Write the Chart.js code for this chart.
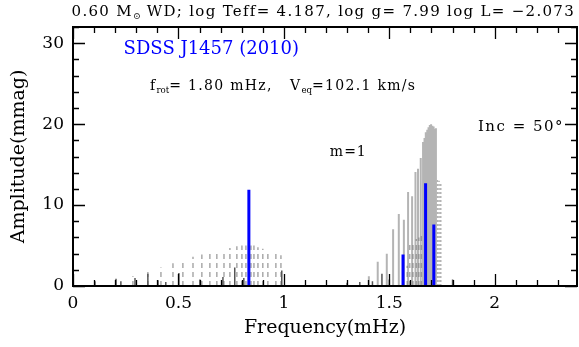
<!DOCTYPE html>
<html>
<head>
<meta charset="utf-8">
<script src="https://cdn.jsdelivr.net/npm/chart.js@4.4.0/dist/chart.umd.min.js"></script>
<style>
  html, body { margin: 0; padding: 0; background: #fff; }
  #wrap { width: 579px; height: 347px; }
</style>
</head>
<body>
<div id="wrap"><canvas id="spectrum"></canvas></div>
<script>
// observed peaks (blue)
const obsFreq = [0.834, 1.565, 1.672, 1.711];
const obsAmp = [11.9, 3.9, 12.7, 7.6];

// model modes, low-frequency group (dashed)
const lowDashFreq = [0.284, 0.355, 0.417, 0.474, 0.521, 0.569, 0.611, 0.649, 0.682, 0.716, 0.744, 0.777, 0.801, 0.820, 0.844, 0.858, 0.877, 0.900, 0.924, 0.962, 0.986];
const lowDashAmp = [1.2, 1.8, 2.3, 2.8, 3.3, 3.6, 3.9, 4.1, 4.3, 4.4, 4.7, 4.9, 5.0, 5.0, 5.0, 5.0, 4.8, 4.6, 4.3, 4.2, 3.8];

// short solid stems
const lowFreq = [0.104, 0.204, 0.227, 0.294, 0.355, 0.403, 0.440, 0.502, 0.602, 0.711, 0.767, 0.810, 0.990, 1.300, 1.360, 1.420, 1.465, 1.500, 1.800];
const lowAmp = [0.6, 0.9, 0.6, 1.0, 1.5, 0.7, 0.5, 1.6, 0.8, 1.1, 2.3, 1.0, 1.9, 0.4, 0.5, 0.6, 1.5, 0.8, 0.8];

// high-frequency band (solid)
const bandFreq = [1.403, 1.445, 1.488, 1.518, 1.545, 1.569, 1.589, 1.608, 1.624, 1.636, 1.649, 1.660, 1.667, 1.673, 1.680, 1.686, 1.692, 1.698, 1.704, 1.710, 1.716, 1.721];
const bandAmp = [1.2, 3.0, 4.0, 7.0, 8.9, 8.2, 11.6, 11.1, 14.1, 14.5, 15.8, 17.8, 18.3, 19.0, 19.3, 19.6, 19.9, 20.0, 19.8, 19.7, 19.4, 19.5];

// high-frequency band (dashed)
const bandDashFreq = [1.585, 1.597, 1.612, 1.628, 1.640, 1.652];
const bandDashAmp = [2.5, 5.3, 5.5, 5.8, 6.0, 6.3];

// dotted
const dotFreq = [1.728, 1.736, 1.744];
const dotAmp = [13.3, 13.0, 12.6];

const xMax = 2.39, yMax = 32;
const serif = '"DejaVu Serif", "Liberation Serif", serif';

// vertical stems: 0 -> amp, then a gap
function stems(freqs, amps) {
  let pts = [];
  for (let i = 0; i < freqs.length; i++) {
    pts.push({x: freqs[i], y: 0}, {x: freqs[i], y: amps[i]}, {x: freqs[i], y: null});
  }
  return pts;
}

function stemSet(freqs, amps, color, width, dash) {
  return {
    data: stems(freqs, amps),
    showLine: true,
    spanGaps: false,
    borderColor: color,
    borderWidth: width,
    borderDash: dash || [],
    borderCapStyle: 'butt',
    pointRadius: 0
  };
}

// draws a row of text pieces, some as subscripts
function drawRuns(ctx, runs, x, y, size, spacing) {
  ctx.textBaseline = 'middle';
  ctx.textAlign = 'left';
  for (const r of runs) {
    let s = r.sub ? size * 0.62 : size;
    ctx.font = s + 'px ' + serif;
    ctx.letterSpacing = (r.sub ? 0 : spacing) + 'px';
    ctx.fillText(r.t, x, r.sub ? y + size * 0.32 : y);
    x += ctx.measureText(r.t).width;
  }
  ctx.letterSpacing = '0px';
  return x;
}
function runsWidth(ctx, runs, size, spacing) {
  let w = 0;
  for (const r of runs) {
    ctx.font = (r.sub ? size * 0.62 : size) + 'px ' + serif;
    ctx.letterSpacing = (r.sub ? 0 : spacing) + 'px';
    w += ctx.measureText(r.t).width;
  }
  ctx.letterSpacing = '0px';
  return w;
}

const frameTicks = {
  id: 'frameTicks',
  afterDatasetsDraw(chart) {
    const {ctx, chartArea: a, scales: {x, y}} = chart;
    ctx.save();
    ctx.strokeStyle = '#000';
    ctx.lineWidth = 1.3;
    ctx.beginPath();
    for (let i = 0; i * 0.1 <= xMax + 1e-9; i++) {
      let px = Math.round(x.getPixelForValue(i * 0.1)) + 0.5;
      let len = (i % 5 === 0) ? 12 : 6;
      ctx.moveTo(px, a.bottom); ctx.lineTo(px, a.bottom - len);
      ctx.moveTo(px, a.top); ctx.lineTo(px, a.top + len);
    }
    for (let j = 0; j * 2 <= yMax; j++) {
      let py = Math.round(y.getPixelForValue(j * 2)) + 0.5;
      let len = (j % 5 === 0) ? 12 : 6;
      ctx.moveTo(a.left, py); ctx.lineTo(a.left + len, py);
      ctx.moveTo(a.right, py); ctx.lineTo(a.right - len, py);
    }
    ctx.stroke();
    ctx.lineWidth = 2;
    ctx.strokeRect(a.left, a.top, a.right - a.left, a.bottom - a.top);
    ctx.restore();
  },
  afterDraw(chart) {
    const {ctx, chartArea: a, scales: {x, y}} = chart;
    ctx.save();
    ctx.fillStyle = '#000';
    const title = [{t: '0.60 M'}, {t: '\u2299', sub: true}, {t: ' WD; log Teff= 4.187, log g= 7.99 log L= \u22122.073'}];
    let tw = runsWidth(ctx, title, 15, 1.3);
    drawRuns(ctx, title, a.right - 2 - tw, 12, 15, 1.3);

    ctx.fillStyle = '#0000ff';
    drawRuns(ctx, [{t: 'SDSS J1457 (2010)'}], x.getPixelForValue(0.24), y.getPixelForValue(29.3), 18, 0);

    ctx.fillStyle = '#000';
    drawRuns(ctx, [{t: 'f'}, {t: 'rot', sub: true}, {t: '= 1.80 mHz,   V'}, {t: 'eq', sub: true}, {t: '=102.1 km/s'}],
      x.getPixelForValue(0.365), y.getPixelForValue(24.7), 14, 1.3);
    drawRuns(ctx, [{t: 'Inc = 50\u00b0'}], x.getPixelForValue(1.92), y.getPixelForValue(19.6), 15, 1.5);
    drawRuns(ctx, [{t: 'm=1'}], x.getPixelForValue(1.218), y.getPixelForValue(16.5), 14, 1);
    ctx.restore();
  }
};

new Chart(document.getElementById('spectrum'), {
  type: 'scatter',
  data: {
    datasets: [
      stemSet(obsFreq, obsAmp, '#0000ff', 3),
      stemSet(lowFreq, lowAmp, '#555555', 1.5),
      stemSet(dotFreq, dotAmp, '#b4b4b4', 1.5, [2, 2]),
      stemSet(bandFreq, bandAmp, 'rgba(130,130,130,0.6)', 2),
      stemSet(bandDashFreq, bandDashAmp, '#aaaaaa', 1.5, [5, 4]),
      stemSet(lowDashFreq, lowDashAmp, '#aaaaaa', 1.5, [5, 4])
    ]
  },
  options: {
    responsive: true,
    maintainAspectRatio: false,
    animation: false,
    events: [],
    layout: { padding: { top: 27, right: 2, left: 0, bottom: 0 } },
    plugins: { legend: { display: false }, tooltip: { enabled: false } },
    scales: {
      x: {
        type: 'linear', min: 0, max: xMax,
        grid: { display: false, drawTicks: false },
        border: { display: false },
        ticks: {
          stepSize: 0.5, includeBounds: false, padding: 7, color: '#000', maxRotation: 0,
          font: { family: serif, size: 17 },
          callback: v => String(v)
        },
        title: { display: true, text: 'Frequency(mHz)', color: '#000', font: { family: serif, size: 19 }, padding: { bottom: 8 } },
        afterFit(scale) { scale.height = 61; }
      },
      y: {
        min: 0, max: yMax,
        grid: { display: false, drawTicks: false },
        border: { display: false },
        ticks: {
          stepSize: 10, includeBounds: false, padding: 9, color: '#000',
          font: { family: serif, size: 17 }
        },
        title: { display: true, text: 'Amplitude(mmag)', color: '#000', font: { family: serif, size: 19 }, padding: { top: 8 } },
        afterFit(scale) { scale.width = 73; }
      }
    }
  },
  plugins: [frameTicks]
});
</script>
</body>
</html>
